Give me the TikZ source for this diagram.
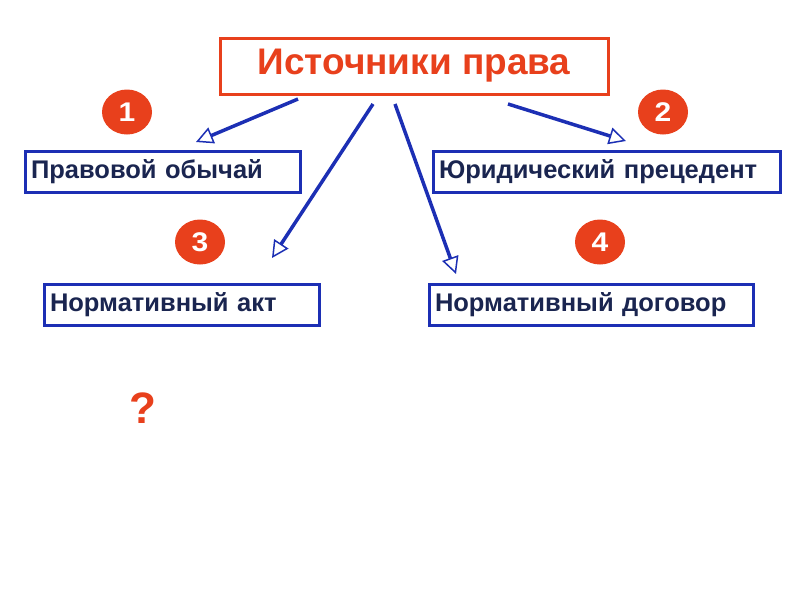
\documentclass[tikz,border=0pt]{standalone}
\usepackage{fontspec}
\setmainfont{Liberation Sans}
\usetikzlibrary{arrows.meta}
\definecolor{rd}{HTML}{E8401C}
\definecolor{bl}{HTML}{1C2FB4}
\definecolor{tx}{HTML}{1A2550}
\begin{document}
\begin{tikzpicture}[x=1pt,y=-1pt,
  sbox/.style={draw=bl,line width=3pt,fill=white,font=\bfseries\fontsize{25.5}{28}\selectfont,text=tx,inner xsep=6pt,inner ysep=9pt,text height=18pt,text depth=5pt,anchor=north west,align=left},
  num/.style={circle,fill=rd,text=white,font=\bfseries\fontsize{30}{34}\selectfont,minimum width=50pt,inner sep=0pt,yscale=0.9},
  arr/.style={draw=bl,line width=3.5pt,-{Triangle[open,fill=white,length=17pt,width=17pt,line width=1.5pt]}}]
\useasboundingbox (0,0) rectangle (800,600);
\node[draw=rd,line width=3pt,minimum width=388pt,minimum height=56pt,text=rd,font=\bfseries\fontsize{37}{42}\selectfont,anchor=north west,inner sep=0pt] (top) at (218.5,36.5) {Источники права};
\node[sbox,text width=263pt] (a) at (23.5,149.5) {Правовой обычай};
\node[sbox,text width=335pt] (b) at (431.5,149.5) {Юридический прецедент};
\node[sbox,text width=263pt] (c) at (42.5,282.5) {Нормативный акт};
\node[sbox,text width=312pt] (d) at (427.5,282.5) {Нормативный договор};
\node[num] (n1) at (127,112) {1};
\node[num] (n2) at (663,112) {2};
\node[num] (n3) at (200,242) {3};
\node[num] (n4) at (600,242) {4};
\node[text=rd,font=\bfseries\fontsize{44}{50}\selectfont] (q) at (143,408) {?};
\coordinate (s1) at (298,99); \coordinate (e1) at (196,142);
\coordinate (s2) at (373,104); \coordinate (e2) at (272,258);
\coordinate (s3) at (395,104); \coordinate (e3) at (456,274);
\coordinate (s4) at (508,104); \coordinate (e4) at (626,141);
\draw[arr] (s1) -- (e1);
\draw[arr] (s2) -- (e2);
\draw[arr] (s3) -- (e3);
\draw[arr] (s4) -- (e4);
\end{tikzpicture}
\end{document}
